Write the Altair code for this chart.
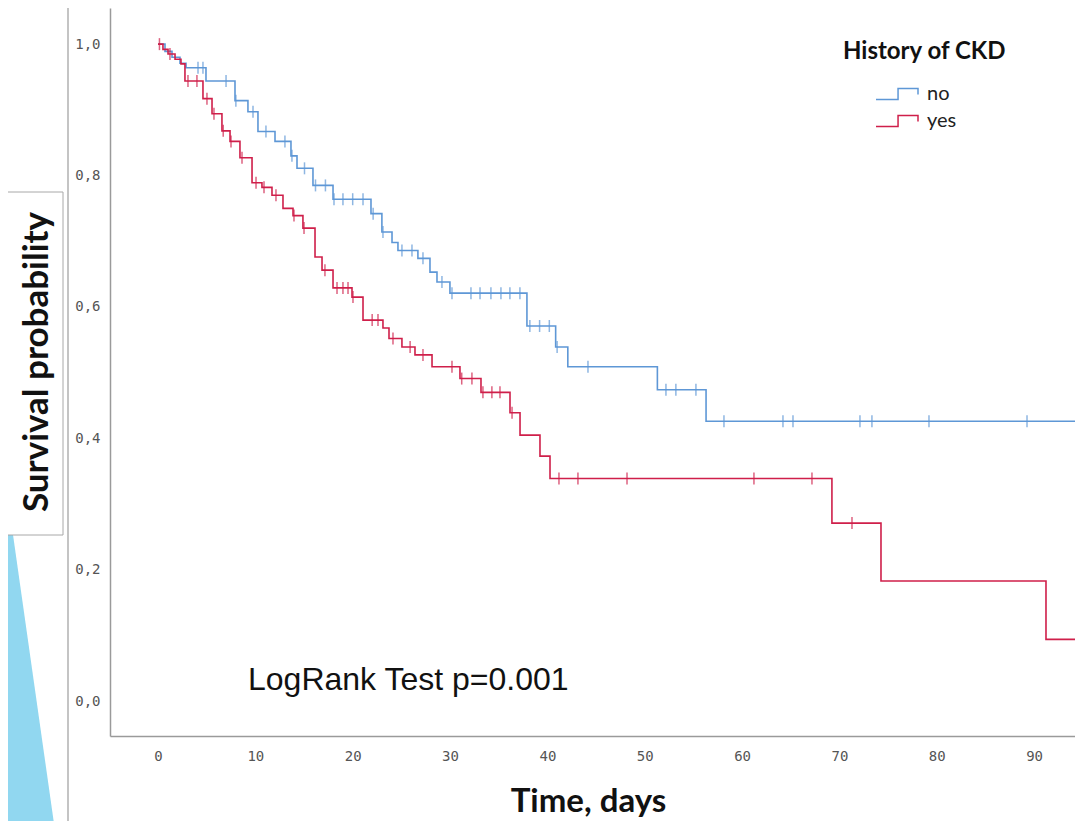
import altair as alt
import pandas as pd

# ---- Kaplan-Meier step data ----
no_time = [0, 0.72, 1.44, 2.26, 2.88, 4.93, 7.91, 9.24, 10.27, 12.02, 13.66, 14.28, 15.92,
           17.98, 21.88, 23.0, 24.04, 24.65, 26.7, 27.94, 28.66, 29.99, 37.9, 40.85, 42.1,
           51.3, 56.3, 100]
no_surv = [1.0, 0.989, 0.980, 0.971, 0.964, 0.944, 0.914, 0.897, 0.867, 0.852, 0.830, 0.811,
           0.785, 0.764, 0.742, 0.714, 0.698, 0.686, 0.674, 0.653, 0.638, 0.621, 0.571, 0.539,
           0.509, 0.474, 0.426, 0.426]
no_censored = [4.11, 4.62, 6.99, 8.0, 9.76, 11.09, 13.04, 13.76, 15.05, 16.18, 17.2, 18.08,
               19.0, 20.0, 21.06, 22.1, 23.11, 25.06, 26.09, 27.22, 29.17, 30.2, 32.15, 33.08,
               34.2, 35.23, 36.15, 37.18, 38.2, 39.2, 40.2, 41.0, 44.17, 52.18, 53.2, 55.26,
               58.14, 64.2, 65.23, 72.11, 73.34, 79.2, 89.27]

yes_time = [0, 0.51, 1.03, 1.75, 2.36, 2.77, 4.62, 5.55, 6.57, 7.4, 8.42, 9.66, 10.68, 11.71,
            12.84, 13.87, 14.89, 16.13, 16.85, 17.98, 19.93, 21.06, 23.11, 23.73, 25.06, 26.4,
            28.15, 31.02, 33.18, 36.16, 37.19, 39.24, 40.27, 69.23, 74.27, 91.22, 100]
yes_surv = [1.0, 0.992, 0.985, 0.977, 0.970, 0.944, 0.917, 0.894, 0.868, 0.852, 0.827, 0.789,
            0.782, 0.770, 0.750, 0.739, 0.720, 0.676, 0.656, 0.629, 0.615, 0.580, 0.568, 0.552,
            0.539, 0.527, 0.509, 0.491, 0.470, 0.439, 0.405, 0.373, 0.339, 0.271, 0.183, 0.094,
            0.094]
yes_censored = [0.15, 1.23, 3.08, 4.0, 5.03, 5.75, 6.7, 7.5, 8.63, 10.07, 10.89, 12.12, 13.97,
                15.0, 17.15, 18.39, 19.0, 19.52, 20.03, 22.0, 22.6, 24.14, 25.9, 27.22, 30.2,
                31.2, 32.25, 33.38, 34.3, 35.13, 36.37, 41.19, 43.14, 48.18, 61.22, 67.18, 71.29]

groups = ["no", "yes"]
colors = ["#5E97D6", "#CF1F4A"]
x_ticks = [0, 10, 20, 30, 40, 50, 60, 70, 80, 90]
y_ticks = [0.0, 0.2, 0.4, 0.6, 0.8, 1.0]

# slide decoration (light-blue wedge at the left edge), in the chart's units
wedge_y = [0.40, -0.195]
wedge_x = [-16.3, -10.6]
wedge_x2 = [-16.3, -16.3]


def step_value(times, survs, t):
    val = survs[0]
    for ti, si in zip(times, survs):
        if ti <= t:
            val = si
    return val


rows = []
for g, ts, ss in [("no", no_time, no_surv), ("yes", yes_time, yes_surv)]:
    for t, s in zip(ts, ss):
        rows.append({"group": g, "time": t, "surv": s})
curve_df = pd.DataFrame(rows)

crow = []
for g, cs, ts, ss in [("no", no_censored, no_time, no_surv),
                      ("yes", yes_censored, yes_time, yes_surv)]:
    for c in cs:
        crow.append({"group": g, "time": c, "surv": step_value(ts, ss, c)})
cens_df = pd.DataFrame(crow)

wedge_df = pd.DataFrame({"surv": wedge_y, "time": wedge_x, "time2": wedge_x2})
one = pd.DataFrame({"k": [0]})

X = alt.X("time:Q",
          scale=alt.Scale(domain=[-4.93, 94.2], nice=False, zero=False),
          axis=alt.Axis(values=x_ticks, title="Time, days", ticks=False, grid=False,
                        domainColor="#9a9a9a", domainWidth=1.5,
                        labelFont="DejaVu Sans Mono", labelFontSize=14, labelColor="#555555",
                        labelPadding=13,
                        titleFont="Lato", titleFontSize=33, titleFontWeight="bold",
                        titleColor="#111111", titlePadding=22, titleX=478,
                        titleAlign="center"))
Y = alt.Y("surv:Q",
          scale=alt.Scale(domain=[-0.053, 1.055], nice=False, zero=False),
          axis=alt.Axis(values=y_ticks, title=None, ticks=False, grid=False,
                        domainColor="#9a9a9a", domainWidth=1.5,
                        labelExpr="replace(format(datum.value, '.1f'), '.', ',')",
                        labelFont="DejaVu Sans Mono", labelFontSize=14, labelColor="#555555",
                        labelPadding=10))

step_symbol = "M-1,0.26L0.05,0.26L0.05,-0.26L1,-0.26L1,0.02"
C = alt.Color("group:N",
              scale=alt.Scale(domain=groups, range=colors),
              legend=alt.Legend(title="History of CKD", orient="none", legendX=733, legendY=32,
                                padding=0, titleFont="Lato", titleFontSize=24,
                                titleFontWeight="bold", titleColor="#111111", titlePadding=22,
                                labelFont="Lato", labelFontSize=20, labelColor="#222222",
                                symbolType=step_symbol, symbolSize=1764, symbolStrokeWidth=1.5,
                                symbolFillColor="transparent",
                                symbolOffset=32, labelOffset=8, clipHeight=16, rowPadding=7))

wedge = alt.Chart(wedge_df).mark_area(orient="horizontal", color="#91D7F0").encode(
    y=Y, x=X, x2="time2:Q")

vline = alt.Chart(one).mark_rule(color="#c4c4c4", strokeWidth=2).encode(
    x=alt.value(-42), y=alt.value(-8), y2=alt.value(813))

box = alt.Chart(one).mark_rect(fill="white", stroke="#a8a8a8", strokeWidth=1).encode(
    x=alt.value(-107), x2=alt.value(-47), y=alt.value(184), y2=alt.value(527))

ytitle = alt.Chart(one).mark_text(text="Survival probability", angle=270, font="Lato",
                                  fontSize=35, fontWeight="bold", color="#111111",
                                  align="center", baseline="middle").encode(
    x=alt.value(-73), y=alt.value(354))

logrank = alt.Chart(one).mark_text(text="LogRank Test p=0.001", font="Liberation Sans",
                                   fontSize=32, color="#111111", align="left",
                                   baseline="middle").encode(
    x=alt.value(138), y=alt.value(672))

lines = alt.Chart(curve_df).mark_line(interpolate="step-after", strokeWidth=1.6, clip=True).encode(
    x=X, y=Y, color=C, detail="group:N")

tick_layers = []
for g, col in zip(groups, colors):
    tick_layers.append(
        alt.Chart(cens_df).transform_filter(alt.datum.group == g)
        .mark_tick(orient="vertical", size=12, thickness=1.5, clip=True, color=col)
        .encode(x=X, y=Y)
    )

chart = alt.layer(wedge, vline, box, ytitle, logrank, lines, *tick_layers).properties(
    width=965, height=728,
    autosize=alt.AutoSizeParams(type="none"),
    padding={"left": 102, "top": 0, "right": 0, "bottom": 85},
    background="white",
).configure_view(stroke=None)

chart.save("out.html", embed_options={"renderer": "svg", "actions": False})
